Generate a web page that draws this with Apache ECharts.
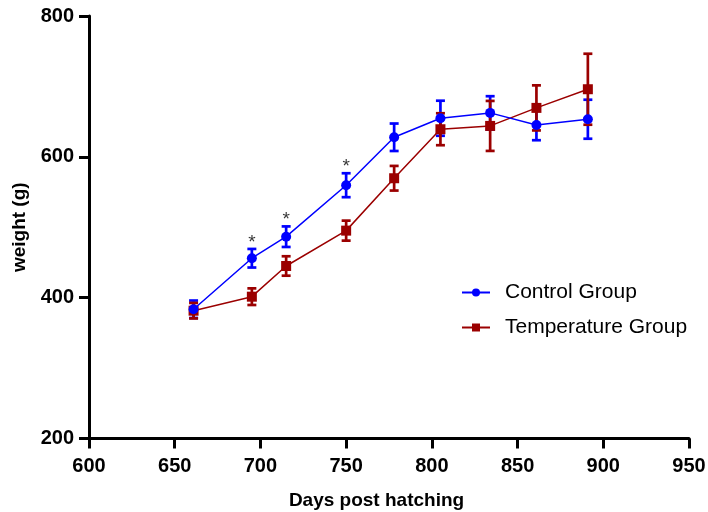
<!DOCTYPE html>
<html><head><meta charset="utf-8">
<script src="https://cdn.jsdelivr.net/npm/echarts@6/dist/echarts.min.js"></script>
<style>html,body{margin:0;padding:0;background:#fff}#c{width:708px;height:512px}</style>
</head><body><div id="c"></div>
<script>
// ---- data ----
const days = [661, 695, 715, 750, 778, 805, 834, 861, 891];
const controlMean = [383.5, 456, 486.6, 559.7, 627.8, 654.8, 662.4, 645.3, 653.4];
const controlErr = [12.4, 13.2, 14.6, 17, 19.5, 24.9, 23.7, 21.7, 27.7];
const tempMean = [381.5, 401.4, 445, 495.2, 569.6, 639.2, 643.9, 669.5, 696];
const tempErr = [11, 11.8, 13.8, 14.2, 17.5, 22.7, 35.5, 32, 50.4];
const significant = [false, true, true, true, false, false, false, false, false];
const xTicks = [600, 650, 700, 750, 800, 850, 900, 950];
const yTicks = [200, 400, 600, 800];
const seriesNames = ['Control Group', 'Temperature Group'];

const BLUE = '#0000ff', RED = '#9b0000';
const FONT = '"Liberation Sans", Arial, sans-serif';

function pts(mean) { return days.map((d, i) => [d, mean[i]]); }
function bars(mean, err) { return days.map((d, i) => [d, mean[i] - err[i], mean[i] + err[i]]); }

function errRender(color) {
  return function (params, api) {
    const x = api.value(0);
    const lo = api.coord([x, api.value(1)]);
    const hi = api.coord([x, api.value(2)]);
    const hw = 4.5;
    const st = { stroke: color, lineWidth: 2.7 };
    return {
      type: 'group',
      children: [
        { type: 'line', shape: { x1: lo[0], y1: lo[1], x2: hi[0], y2: hi[1] }, style: st },
        { type: 'line', shape: { x1: lo[0] - hw, y1: lo[1], x2: lo[0] + hw, y2: lo[1] }, style: st },
        { type: 'line', shape: { x1: hi[0] - hw, y1: hi[1], x2: hi[0] + hw, y2: hi[1] }, style: st }
      ]
    };
  };
}

const starData = days.map((d, i) => significant[i] ? [d, controlMean[i] + controlErr[i]] : null).filter(Boolean);

const axisCommon = {
  axisLine: { show: true, lineStyle: { color: '#000', width: 3 } },
  axisTick: { show: true, length: 10, lineStyle: { color: '#000', width: 3 } },
  splitLine: { show: false },
  axisLabel: { color: '#000', fontWeight: 'bold', fontSize: 20, fontFamily: FONT, margin: 15 },
  nameTextStyle: { color: '#000', fontWeight: 'bold', fontSize: 19, fontFamily: FONT }
};

const chart = echarts.init(document.getElementById('c'), null, { renderer: 'canvas' });
chart.setOption({
  animation: false,
  backgroundColor: '#fff',
  grid: { left: 89, right: 19, top: 16, bottom: 73.5, containLabel: false, outerBoundsMode: 'none' },
  xAxis: Object.assign({}, axisCommon, {
    type: 'value', min: xTicks[0], max: xTicks[xTicks.length - 1], interval: xTicks[1] - xTicks[0],
    name: 'Days post hatching', nameLocation: 'middle', nameGap: 53,
    axisLabel: Object.assign({}, axisCommon.axisLabel, { margin: 18 }),
    nameTextStyle: Object.assign({}, axisCommon.nameTextStyle, { padding: [0, 25, 0, 0] })
  }),
  yAxis: Object.assign({}, axisCommon, {
    type: 'value', min: yTicks[0], max: yTicks[yTicks.length - 1], interval: yTicks[1] - yTicks[0],
    name: 'weight (g)', nameLocation: 'middle', nameGap: 54
  }),
  legend: {
    orient: 'vertical', left: 461, top: 282, itemGap: 14, padding: 0,
    itemWidth: 28, itemHeight: 10,
    textStyle: { color: '#000', fontSize: 21, fontFamily: FONT, padding: [0, 0, 0, 10] },
    data: seriesNames
  },
  series: [
    { type: 'custom', renderItem: errRender(BLUE), data: bars(controlMean, controlErr), z: 1, silent: true },
    { type: 'custom', renderItem: errRender(RED), data: bars(tempMean, tempErr), z: 1, silent: true },
    {
      name: seriesNames[0], type: 'line', data: pts(controlMean), z: 3,
      symbol: 'circle', symbolSize: 10, color: BLUE,
      lineStyle: { color: BLUE, width: 1.5 }, itemStyle: { color: BLUE }
    },
    {
      name: seriesNames[1], type: 'line', data: pts(tempMean), z: 2,
      symbol: 'rect', symbolSize: 10, color: RED,
      lineStyle: { color: RED, width: 1.5 }, itemStyle: { color: RED }
    },
    {
      type: 'scatter', data: starData, symbolSize: 0, z: 4, silent: true,
      label: { show: true, formatter: '*', position: 'top', distance: -3, color: '#000', fontSize: 19, fontFamily: FONT }
    }
  ]
});
</script></body></html>
